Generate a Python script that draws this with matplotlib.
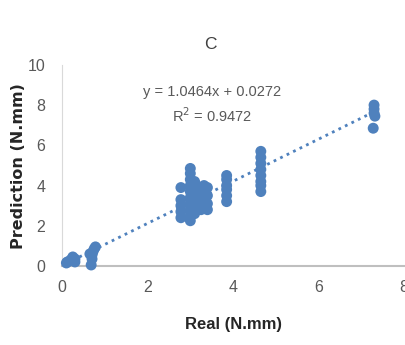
import matplotlib.pyplot as plt

real = [0.10, 0.12, 0.20, 0.25, 0.30, 0.30,
        0.65, 0.68, 0.70, 0.70, 0.72, 0.75, 0.78,
        2.78, 2.78, 2.78, 2.78, 2.78,
        3.00, 3.00, 3.00, 3.00, 3.00, 3.00, 3.00, 3.00, 3.00, 3.00,
        3.10, 3.10, 3.10, 3.10,
        3.18, 3.18, 3.18,
        3.25, 3.25, 3.25, 3.25,
        3.32, 3.32, 3.32, 3.32,
        3.40, 3.40, 3.40, 3.40,
        3.85, 3.85, 3.85, 3.85, 3.85, 3.85,
        4.65, 4.65, 4.65, 4.65, 4.65, 4.65, 4.65, 4.65,
        7.30, 7.30, 7.30, 7.32, 7.28]
prediction = [0.15, 0.20, 0.30, 0.45, 0.35, 0.20,
              0.60, 0.05, 0.35, 0.55, 0.70, 0.85, 0.95,
              3.90, 3.30, 3.00, 2.70, 2.40,
              4.85, 4.60, 4.30, 4.00, 3.70, 3.40, 3.10, 2.80, 2.50, 2.25,
              4.20, 3.60, 3.00, 2.60,
              3.90, 3.30, 2.90,
              3.80, 3.40, 3.00, 2.80,
              4.00, 3.60, 3.20, 2.90,
              3.90, 3.50, 3.10, 2.80,
              4.50, 4.30, 4.00, 3.80, 3.50, 3.20,
              5.70, 5.40, 5.10, 4.80, 4.50, 4.20, 4.00, 3.70,
              8.00, 7.80, 7.60, 7.45, 6.85]

slope = 1.0464
intercept = 0.0272
r2 = 0.9472

font = ["Liberation Sans", "DejaVu Sans"]
grey = "#595959"
blue = "#4F81BD"

fig = plt.figure(figsize=(4.06, 3.45), dpi=100)
ax = fig.add_axes([0.153, 0.229, 0.842, 0.583])

ax.scatter(real, prediction, s=62, color=blue, edgecolors="none", zorder=3, clip_on=False)

xs = [min(real), max(real)]
ax.plot(xs, [slope * x + intercept for x in xs], color=blue, linestyle=(0, (1, 1.6)),
        linewidth=2, zorder=2)

ax.set_xlim(0, 8)
ax.set_ylim(0, 10)
ax.set_xticks([0, 2, 4, 6, 8])
ax.set_yticks([0, 2, 4, 6, 8, 10])
ax.tick_params(length=0, labelcolor=grey, labelsize=11.5)
ax.tick_params(axis="x", pad=10)
ax.tick_params(axis="y", pad=12)
for lab in ax.get_xticklabels() + ax.get_yticklabels():
    lab.set_family(font)

for s in ["top", "right"]:
    ax.spines[s].set_visible(False)
ax.spines["left"].set_color("#D9D9D9")
ax.spines["bottom"].set_color("#BFBFBF")
ax.spines["bottom"].set_linewidth(1.5)
ax.spines["bottom"].set_clip_on(False)

ax.text(0.44, 0.865, f"y = {slope}x + {intercept}", transform=ax.transAxes,
        ha="center", va="center", fontsize=10.5, color=grey, family=font)
ax.text(0.44, 0.745, f"R$^2$ = {r2}", transform=ax.transAxes,
        ha="center", va="center", fontsize=10.5, color=grey, family=font)

fig.text(0.517, 0.87, "C", ha="center", va="center", fontsize=12.5, color="#404040", family=font)
ax.set_xlabel("Real (N.mm)", fontsize=12, fontweight="bold", color="#262626", family=font, labelpad=16)
fig.text(0.045, 0.52, "Prediction (N.mm)", rotation=90, ha="center", va="center",
         fontsize=11.5, fontweight="bold", color="#262626", family="DejaVu Sans")

fig.savefig("out.png", dpi=100)
